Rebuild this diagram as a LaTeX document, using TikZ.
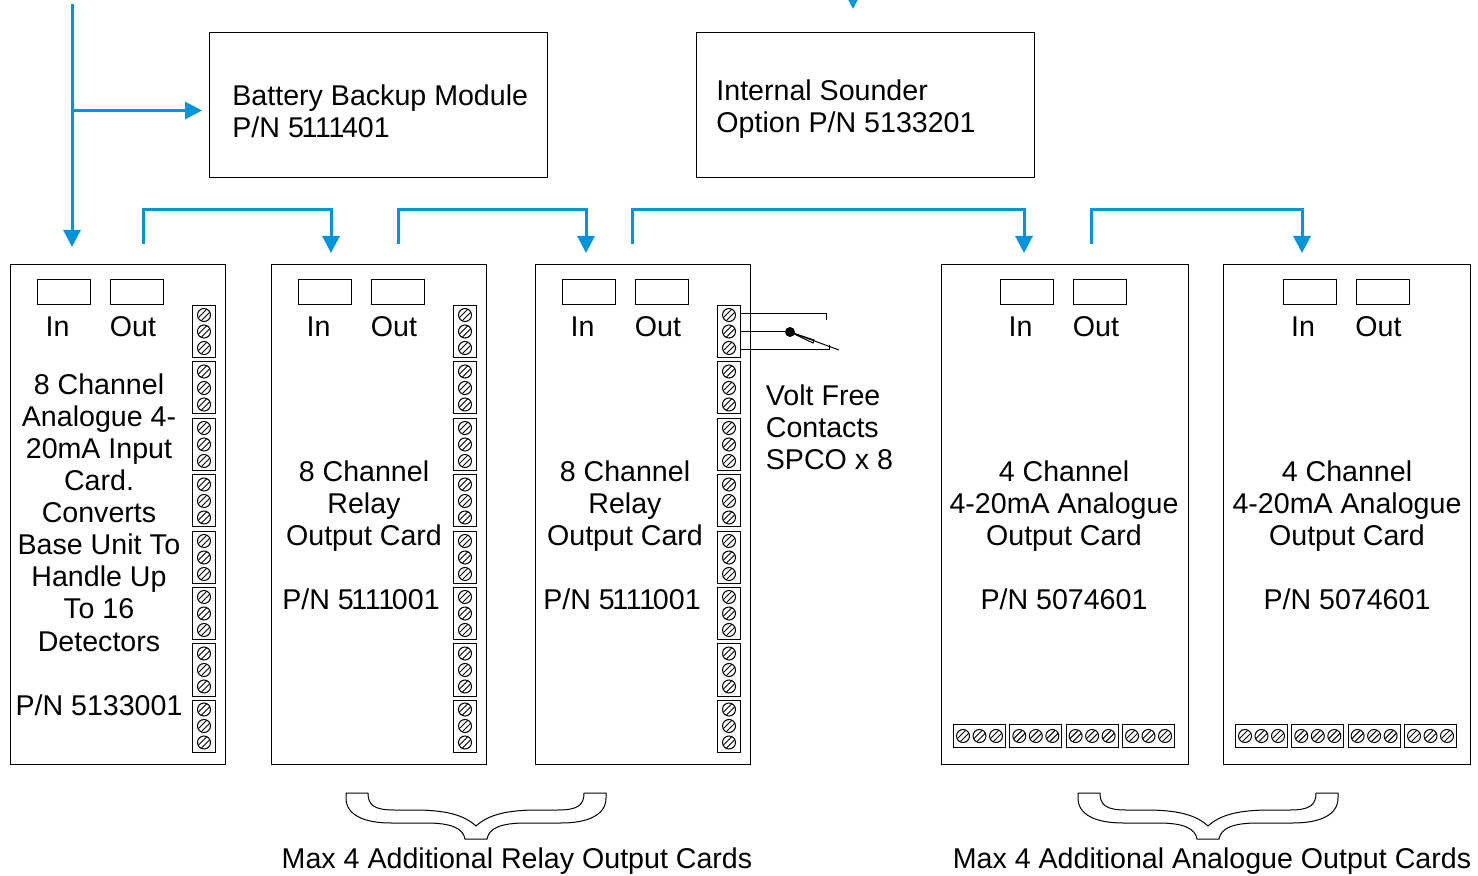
\documentclass[tikz,border=0pt]{standalone}
\usepackage{fontspec}
\setmainfont{Liberation Sans}
\usetikzlibrary{arrows.meta}
\definecolor{feedblue}{HTML}{0095DA}
\tikzstyle{cardnarrow}=[draw, line width=.5pt, minimum width=107.5pt, minimum height=249.5pt, inner sep=0]
\tikzstyle{cardwide}=[draw, line width=.5pt, minimum width=123.5pt, minimum height=249.5pt, inner sep=0]
\tikzstyle{modulebox}=[draw, line width=.5pt, minimum width=169.25pt, minimum height=72.5pt, inner sep=0]
\tikzstyle{portbox}=[draw, line width=.5pt, minimum width=26.5pt, minimum height=12.5pt, inner sep=0]
\tikzstyle{termv}=[draw, line width=.5pt, minimum width=11.5pt, minimum height=26pt, inner sep=0]
\tikzstyle{termh}=[draw, line width=.5pt, minimum width=26pt, minimum height=11.5pt, inner sep=0]
\tikzstyle{label}=[font=\fontsize{14.3}{16}\selectfont, align=center, inner sep=0]
\tikzstyle{leftlabel}=[font=\fontsize{14.3}{16}\selectfont, align=left, anchor=west, inner sep=0]
\tikzstyle{feed}=[feedblue, line width=1.5pt, -{Triangle[length=8.5pt,width=8.5pt]}]
\tikzstyle{contact}=[line width=.5pt]
\newcommand{\tightone}{\kern-1.2pt}
\newcommand{\tightTo}{T\kern-1.3pt o}
\newcommand{\drawscrew}[2]{
  \draw[line width=.5pt] (#1,#2) circle (6.5);
  \draw[line width=.5pt] (#1-5.5,#2+2.5) -- (#1+2.5,#2-5.5);
  \draw[line width=.5pt] (#1-2.5,#2+5.5) -- (#1+5.5,#2-2.5);
}
% vertical column of eight blocks, #1 is the centre x
\newcommand{\drawtermcolumn}[2]{
  \foreach \n/\ty in {1/305,2/361.5,3/418,4/474.5,5/531,6/587,7/643.5,8/699.5} {
    \node[termv] (#2t\n) at (#1,\ty+26.5) {};
    \drawscrew{#1}{\ty+10}
    \drawscrew{#1}{\ty+26.5}
    \drawscrew{#1}{\ty+43}
  }
}
% row of four blocks, #1 is the left x
\newcommand{\drawtermrow}[2]{
  \foreach \n/\tx in {1/0,2/56.3,3/112.6,4/169} {
    \node[termh] (#2t\n) at (#1+\tx+26.5,736) {};
    \drawscrew{#1+\tx+10}{736}
    \drawscrew{#1+\tx+26.5}{736}
    \drawscrew{#1+\tx+43}{736}
  }
}
\newcommand{\drawports}[2]{
  \node[portbox] (#2inbox) at (#1+54,292) {};
  \node[portbox] (#2outbox) at (#1+127,292) {};
  \node[label] (#2inlabel) at (#1+47.5,327) {In};
  \node[label] (#2outlabel) at (#1+123,327) {Out};
}
\newcommand{\drawbrace}[1]{
  \begin{scope}[shift={(#1,0)}]
    \draw[line width=.5pt] (-130,793) -- (-108,793)
      .. controls (-108,805) and (-102,810) .. (-82,810) -- (-62,810)
      .. controls (-30,810) and (-12,815) .. (0,826)
      .. controls (12,815) and (30,810) .. (62,810) -- (82,810)
      .. controls (102,810) and (108,805) .. (108,793) -- (130,793)
      -- (130,798) .. controls (130,815) and (112,823) .. (85,823) -- (50,823)
      .. controls (25,823) and (13,828) .. (11,839) -- (-11,839)
      .. controls (-13,828) and (-25,823) .. (-50,823) -- (-85,823)
      .. controls (-112,823) and (-130,815) .. (-130,798) -- cycle;
  \end{scope}
}
\begin{document}
\begin{tikzpicture}[x=.5pt, y=-.5pt]
  \useasboundingbox (0,0) rectangle (1478,876);
  \clip (0,0) rectangle (1478,876);

  \node[modulebox] (battery) at (378.5,105.5) {};
  \node[modulebox] (sounder) at (865.7,105.5) {};
  \node[leftlabel] (batterytext) at (232,111) {Battery Backup Module\\P/N 5\tightone1\tightone1\tightone1\tightone401};
  \node[leftlabel] (soundertext) at (716,109) {Internal Sounder\\Option P/N 5133201};

  \node[cardnarrow] (card1) at (117.5,514.5) {};
  \node[cardnarrow] (card2) at (378.5,514.5) {};
  \node[cardnarrow] (card3) at (642.5,514.5) {};
  \node[cardwide] (card4) at (1064.5,514.5) {};
  \node[cardwide] (card5) at (1347,514.5) {};

  \drawports{10}{card1}
  \drawports{271}{card2}
  \drawports{535}{card3}
  \drawports{973}{card4}
  \drawports{1255.5}{card5}

  \drawtermcolumn{204}{card1}
  \drawtermcolumn{465}{card2}
  \drawtermcolumn{729}{card3}
  \drawtermrow{953}{card4}
  \drawtermrow{1235}{card5}

  \node[label] (card1text) at (99,545) {8 Channel\\Analogue 4-\\20mA Input\\Card.\\Converts\\Base Unit \tightTo\\Handle Up\\\tightTo{} 16\\[.5pt]Detectors\\~\\P/N 5133001};
  \node[label] (card2text) at (364,535) {8 Channel\\Relay\\Output Card\\~\\P/N 5\tightone1\tightone1\tightone1\tightone001\hspace*{3pt}};
  \node[label] (card3text) at (625,535) {8 Channel\\Relay\\Output Card\\~\\P/N 5\tightone1\tightone1\tightone1\tightone001\hspace*{3pt}};
  \node[label] (card4text) at (1064,535) {4 Channel\\4-20mA Analogue\\Output Card\\~\\P/N 5074601};
  \node[label] (card5text) at (1347,535) {4 Channel\\4-20mA Analogue\\Output Card\\~\\P/N 5074601};
  \node[leftlabel] (relaytext) at (765.5,427) {Volt Free\\Contacts\\SPCO x 8};

  % incoming feeds
  \coordinate (feedtop) at (72,4);
  \coordinate (feedbranch) at (72,110.5);
  \coordinate (batteryin) at (202,110.5);
  \coordinate (card1in) at (72,247);
  \coordinate (soundertop) at (853,-12);
  \coordinate (sounderin) at (853,9);
  \draw[feed] (feedtop) -- (card1in);
  \draw[feed] (feedbranch) -- (batteryin);
  \draw[feed] (soundertop) -- (sounderin);

  % card to card
  \coordinate (card1out) at (143,244);
  \coordinate (card2in) at (331,253);
  \coordinate (card2out) at (398,244);
  \coordinate (card3in) at (586,253);
  \coordinate (card3out) at (632,244);
  \coordinate (card4in) at (1024,253);
  \coordinate (card4out) at (1091,244);
  \coordinate (card5in) at (1302,253);
  \draw[feed] (card1out) -- ++(0,-34.5) -| (card2in);
  \draw[feed] (card2out) -- ++(0,-34.5) -| (card3in);
  \draw[feed] (card3out) -- ++(0,-34.5) -| (card4in);
  \draw[feed] (card4out) -- ++(0,-34.5) -| (card5in);

  % relay contact
  \coordinate (nctop) at (741,314);
  \coordinate (ncend) at (826,320);
  \coordinate (common) at (741,332);
  \coordinate (pivot) at (790,332);
  \coordinate (noline) at (741,350);
  \coordinate (noend) at (829,345);
  \coordinate (bladeend) at (839,350);
  \draw[contact] (nctop) -| (ncend);
  \draw[contact] (common) -- (pivot);
  \draw[contact] (noline) -| (noend);
  \draw[contact] (pivot) -- (bladeend);
  \draw[contact] (pivot) -- (814,340) -- (813,343) -- (pivot);
  \fill (pivot) circle (5);

  \drawbrace{476}
  \drawbrace{1208}
  \node[label] (relaynote) at (517,861) {Max 4 Additional Relay Output Cards};
  \node[label] (analoguenote) at (1212,861) {Max 4 Additional Analogue Output Cards};
\end{tikzpicture}
\end{document}
